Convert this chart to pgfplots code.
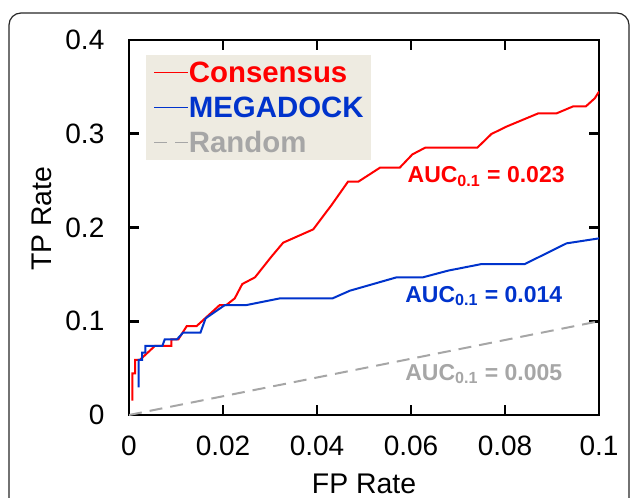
\documentclass[border=0pt]{standalone}
\usepackage{pgfplots}
\pgfplotsset{compat=1.18}
\usepackage{fontspec}
\setmainfont{Liberation Sans}
\definecolor{cred}{HTML}{FF0000}
\definecolor{cblue}{HTML}{0033CC}
\definecolor{cgray}{HTML}{A6A6A6}
\definecolor{legbg}{HTML}{EEEBE1}

\begin{document}
\begin{tikzpicture}
\useasboundingbox (-64.5pt,-41pt) rectangle (250.5pt,207.5pt);
\draw[line width=0.6pt, black!85, rounded corners=6pt] (-60pt,-70pt) rectangle (250pt,201pt);
\begin{axis}[
  at={(0,0)}, anchor=origin,
  scale only axis,
  width=235pt, height=187.5pt,
  xmin=0, xmax=0.1, ymin=0, ymax=0.4,
  xtick={0,0.02,0.04,0.06,0.08,0.1},
  xticklabels={0,0.02,0.04,0.06,0.08,0.1},
  ytick={0,0.1,0.2,0.3,0.4},
  yticklabels={0,0.1,0.2,0.3,0.4},
  /pgf/number format/assume math mode=true,
  tick align=inside, tick pos=both,
  major tick length=5pt,
  axis line style={line width=1.3pt},
  every tick/.style={line width=1.3pt, black},
  ticklabel style={font=\fontsize{14}{16}\selectfont},
  yticklabel style={xshift=-8.8pt},
  xticklabel style={yshift=-6.8pt},
  xlabel={FP Rate}, ylabel={TP Rate},
  xlabel style={at={(axis description cs:0.5,0)}, anchor=base, yshift=-39pt, font=\fontsize{14.2}{16}\selectfont},
  ylabel style={at={(axis description cs:0,0.523)}, anchor=center, yshift=43.5pt, font=\fontsize{14.2}{16}\selectfont},
  legend style={at={(axis description cs:0.036,0.96)}, anchor=north west,
    fill=legbg, draw=none, inner xsep=3.5pt, inner ysep=3.3pt,
    font=\fontsize{14.7}{16}\selectfont\bfseries,
    row sep=7pt, column sep=0pt,
    nodes={inner sep=0pt, text height=10.5pt, text depth=0pt}},
  legend cell align=left,
  legend image post style={line width=0.7pt},
]
\addplot[color=cred, line width=1pt] coordinates {
  (0.0007,0.0153) (0.0007,0.0444) (0.0013,0.0444) (0.0013,0.0587)
  (0.0023,0.0587) (0.0055,0.0736) (0.0090,0.0736) (0.0090,0.0807)
  (0.0105,0.0807) (0.0123,0.0949) (0.0144,0.0949) (0.0193,0.1173)
  (0.0207,0.1173) (0.0225,0.1244) (0.0241,0.1397) (0.0268,0.1468)
  (0.0303,0.1689) (0.0328,0.1838) (0.0392,0.1980) (0.0431,0.2240)
  (0.0466,0.2489) (0.0488,0.2489) (0.0534,0.2638) (0.0576,0.2638)
  (0.0603,0.2780) (0.0630,0.2851) (0.0741,0.2851) (0.0771,0.2997)
  (0.0803,0.3076) (0.0871,0.3218) (0.0910,0.3218) (0.0945,0.3292)
  (0.0972,0.3292) (0.0991,0.3378) (0.1000,0.3449)
};
\addlegendentry{\textcolor{cred}{Consensus}}
\addplot[color=cblue, line width=1pt] coordinates {
  (0.00206,0.0295) (0.00206,0.0587) (0.00277,0.0587) (0.00277,0.0665)
  (0.0035,0.0665) (0.0035,0.0736) (0.0071,0.0736) (0.0076,0.0807)
  (0.0102,0.0807) (0.0115,0.0878) (0.0152,0.0878) (0.0163,0.1031)
  (0.0204,0.1173) (0.0250,0.1173) (0.0321,0.1244) (0.0433,0.1244)
  (0.0470,0.1326) (0.0569,0.1468) (0.0625,0.1468) (0.0679,0.1540)
  (0.0750,0.1610) (0.0842,0.1610) (0.0931,0.1831) (0.1000,0.1884)
};
\addlegendentry{\textcolor{cblue}{MEGADOCK}}
\addplot[color=cgray, line width=1pt, dash pattern=on 6.5pt off 4pt] coordinates {
  (0,0) (0.1,0.1)
};
\addlegendentry{\textcolor{cgray}{Random}}
\node[anchor=base west, inner sep=0pt, font=\fontsize{11.5}{13}\selectfont\bfseries, text=cred] at (axis cs:0.0592,0.2475) {AUC\textsubscript{0.1} = 0.023};
\node[anchor=base west, inner sep=0pt, font=\fontsize{11.5}{13}\selectfont\bfseries, text=cblue] at (axis cs:0.0587,0.1205) {AUC\textsubscript{0.1} = 0.014};
\node[anchor=base west, inner sep=0pt, font=\fontsize{11.5}{13}\selectfont\bfseries, text=cgray] at (axis cs:0.0587,0.0373) {AUC\textsubscript{0.1} = 0.005};
\end{axis}
\end{tikzpicture}
\end{document}
